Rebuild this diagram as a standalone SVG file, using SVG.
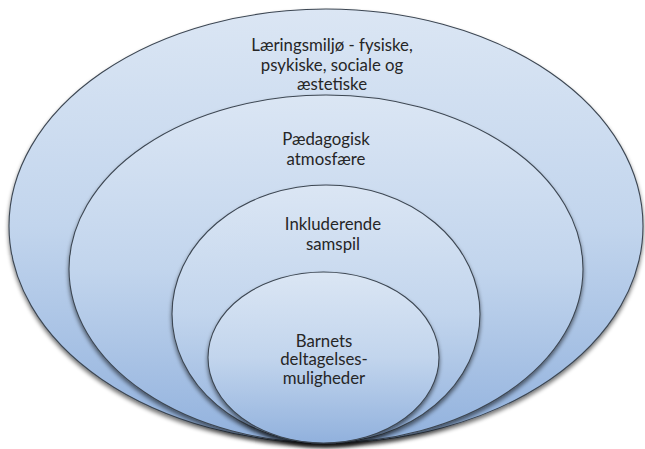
<svg xmlns="http://www.w3.org/2000/svg" width="645" height="449" viewBox="0 0 645 449">
<defs>
<linearGradient id="g" x1="0" y1="0" x2="0" y2="1">
<stop offset="0" stop-color="#dbe6f4"/>
<stop offset="0.5" stop-color="#c2d5ed"/>
<stop offset="1" stop-color="#91b1dd"/>
</linearGradient>
<filter id="sh" x="-5%" y="-5%" width="110%" height="115%">
<feGaussianBlur in="SourceAlpha" stdDeviation="2"/>
<feOffset dy="2.5" result="b"/>
<feComponentTransfer><feFuncA type="linear" slope="0.55"/></feComponentTransfer>
<feMerge><feMergeNode/><feMergeNode in="SourceGraphic"/></feMerge>
</filter>
<style>
.e{fill:url(#g);stroke:#3d4753;stroke-width:1.1;filter:url(#sh)}
.t{font-family:Lato,"Open Sans","Liberation Sans",sans-serif;font-size:16.8px;fill:#262626;text-anchor:middle}
</style>
</defs>
<rect width="645" height="449" fill="#ffffff"/>
<g id="node-outer">
<ellipse class="e" cx="326" cy="226" rx="317" ry="217"/>
<text class="t" x="332" y="50.5">Læringsmiljø - fysiske,</text>
<text class="t" x="332" y="70.5">psykiske, sociale og</text>
<text class="t" x="332" y="90">æstetiske</text>
</g>
<g id="node-second">
<ellipse class="e" cx="326" cy="269" rx="257" ry="174"/>
<text class="t" x="326" y="145">Pædagogisk</text>
<text class="t" x="326" y="165">atmosfære</text>
</g>
<g id="node-third">
<ellipse class="e" cx="326" cy="314" rx="154" ry="129"/>
<text class="t" x="333" y="230">Inkluderende</text>
<text class="t" x="333" y="249.5">samspil</text>
</g>
<g id="node-inner">
<ellipse class="e" cx="323.5" cy="357.5" rx="115.5" ry="85.5"/>
<text class="t" x="324" y="346.5">Barnets</text>
<text class="t" x="324" y="365">deltagelses-</text>
<text class="t" x="324" y="383.5">muligheder</text>
</g>
<g id="connectors"/>
</svg>
